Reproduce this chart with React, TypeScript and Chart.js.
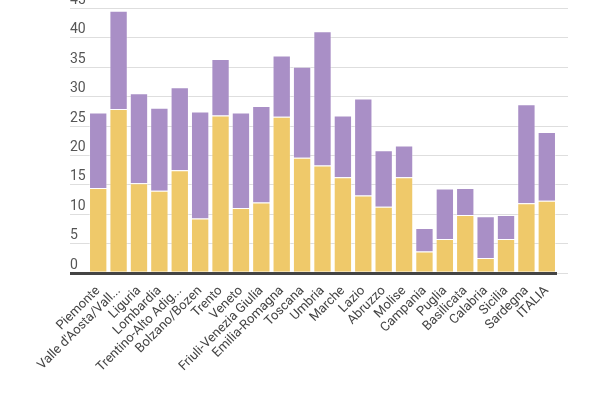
import React, { useEffect, useRef } from "react";
import { Chart, registerables } from "chart.js";

Chart.register(...registerables);

const categories = [
  "Piemonte",
  "Valle d'Aosta/Vall...",
  "Liguria",
  "Lombardia",
  "Trentino-Alto Adig...",
  "Bolzano/Bozen",
  "Trento",
  "Veneto",
  "Friuli-Venezia Giulia",
  "Emilia-Romagna",
  "Toscana",
  "Umbria",
  "Marche",
  "Lazio",
  "Abruzzo",
  "Molise",
  "Campania",
  "Puglia",
  "Basilicata",
  "Calabria",
  "Sicilia",
  "Sardegna",
  "ITALIA",
];

const yellowValues = [
  14.5, 27.9, 15.3, 14.0, 17.5, 9.3, 26.8, 11.1, 12.0, 26.6, 19.6, 18.3, 16.3,
  13.2, 11.3, 16.3, 3.7, 5.8, 9.9, 2.6, 5.8, 11.9, 12.3,
];

const purpleValues = [
  12.8, 16.7, 15.3, 14.1, 14.1, 18.2, 9.6, 16.2, 16.4, 10.4, 15.5, 22.8, 10.5,
  16.5, 9.6, 5.4, 4.0, 8.6, 4.6, 7.1, 4.1, 16.8, 11.7,
];

const yTicks = [0, 5, 10, 15, 20, 25, 30, 35, 40, 45];

export default function App() {
  const ref = useRef<HTMLCanvasElement | null>(null);

  useEffect(() => {
    if (!ref.current) return;
    const gridColor = "#dedede";
    const chart = new Chart(ref.current, {
      type: "bar",
      data: {
        labels: categories,
        datasets: [
          {
            label: "A",
            data: yellowValues,
            backgroundColor: "#EFC96A",
            borderColor: "rgba(255,255,255,0.35)",
            borderWidth: 1,
            barPercentage: 0.9,
            categoryPercentage: 1,
          },
          {
            label: "B",
            data: purpleValues,
            backgroundColor: "#A98FC6",
            borderColor: "rgba(255,255,255,0.35)",
            borderWidth: 1,
            barPercentage: 0.9,
            categoryPercentage: 1,
          },
        ],
      },
      options: {
        animation: false,
        responsive: true,
        maintainAspectRatio: false,
        layout: { padding: { left: 70, right: 32, top: 0, bottom: 23 } },
        plugins: {
          legend: { display: false },
          tooltip: { enabled: false },
        },
        scales: {
          x: {
            stacked: true,
            grid: { display: false },
            border: { display: false },
            ticks: {
              autoSkip: false,
              minRotation: 45,
              maxRotation: 45,
              color: "#444",
              padding: 2,
              font: { family: "Roboto", size: 13 },
            },
          },
          y: {
            stacked: true,
            min: 0,
            max: 45,
            afterBuildTicks: (scale: any) => {
              scale.ticks = yTicks.map((v) => ({ value: v }));
            },
            afterFit: (scale: any) => {
              scale.width = 18;
            },
            border: { display: false },
            grid: {
              color: (ctx: any) => (ctx.tick && ctx.tick.value === 0 ? "#444" : gridColor),
              lineWidth: (ctx: any) => (ctx.tick && ctx.tick.value === 0 ? 3 : 1),
              tickLength: 18,
              drawTicks: true,
            },
            ticks: {
              crossAlign: "far",
              labelOffset: -8,
              padding: 0,
              color: "#555",
              font: { family: "Roboto", size: 14 },
            },
          },
          y2: {
            position: "right",
            min: 0,
            max: 45,
            afterBuildTicks: (scale: any) => {
              scale.ticks = yTicks.map((v) => ({ value: v }));
            },
            afterFit: (scale: any) => {
              scale.width = 11;
            },
            border: { display: false },
            grid: {
              color: gridColor,
              lineWidth: 1,
              drawOnChartArea: false,
              tickLength: 11,
            },
            ticks: { display: false },
          },
        },
      },
    });
    return () => chart.destroy();
  }, []);

  return (
    <div style={{ position: "absolute", left: 0, top: 0, width: 600, height: 400 }}>
      <canvas ref={ref} />
    </div>
  );
}
